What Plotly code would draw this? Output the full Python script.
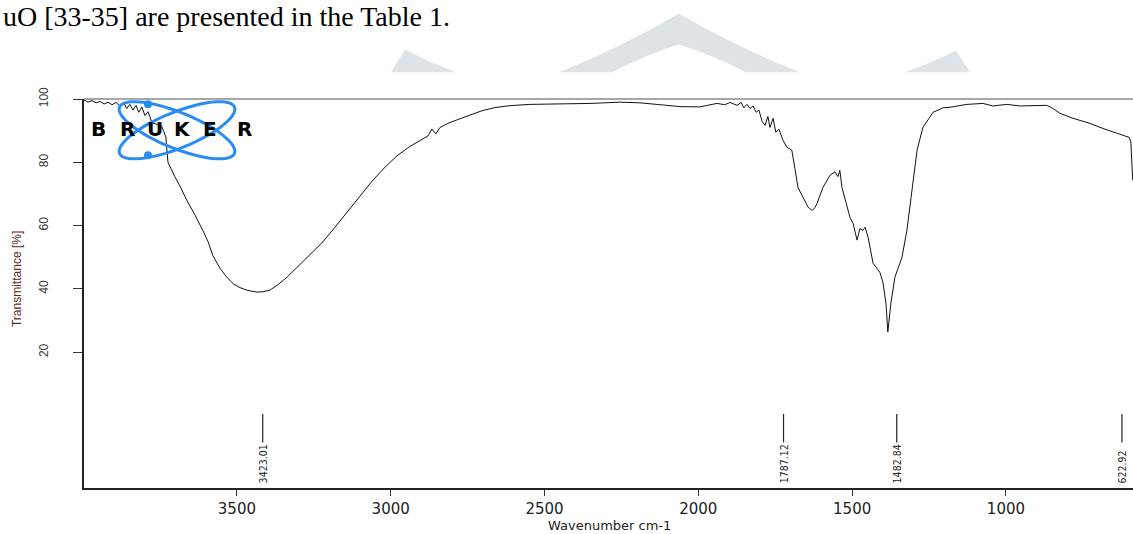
import numpy as np
import plotly.graph_objects as go

# ---------------- data ----------------
wavenumber = [3997, 3984, 3971, 3958, 3945, 3932, 3919, 3906, 3893, 3880, 3867, 3858, 3848, 3838,
              3828, 3819, 3809, 3799, 3789, 3776, 3760, 3744, 3731, 3724, 3702, 3685, 3663, 3637,
              3611, 3594, 3578, 3555, 3533, 3510, 3490, 3464, 3435, 3415, 3393, 3367, 3337, 3305,
              3263, 3224, 3181, 3139, 3100, 3061, 3018, 2980, 2938, 2905, 2879, 2866, 2853, 2840,
              2814, 2782, 2743, 2703, 2661, 2612, 2547, 2450, 2352, 2255, 2190, 2125, 2060, 1995,
              1940, 1914, 1897, 1874, 1861, 1852, 1842, 1832, 1822, 1812, 1803, 1793, 1783, 1774,
              1767, 1757, 1748, 1738, 1725, 1712, 1696, 1686, 1676, 1660, 1650, 1643, 1630, 1621,
              1614, 1595, 1572, 1556, 1546, 1540, 1533, 1517, 1507, 1497, 1484, 1475, 1465, 1458,
              1448, 1432, 1410, 1400, 1390, 1384, 1374, 1361, 1338, 1322, 1306, 1289, 1270, 1237,
              1205, 1182, 1127, 1075, 1042, 997, 955, 912, 867, 847, 825, 782, 727, 685, 639, 600,
              594, 588]
transmittance = [99.7, 99.0, 99.5, 98.8, 99.2, 98.4, 99.0, 98.2, 98.9, 97.8, 98.6, 97.0, 98.3, 96.5,
                 98.0, 95.8, 97.5, 94.8, 96.0, 92.5, 92.0, 91.3, 88.0, 80.0, 75.5, 72.5, 68.0, 63.5,
                 58.5, 55.0, 50.5, 46.5, 43.7, 41.5, 40.4, 39.5, 39.0, 39.1, 39.6, 41.3, 43.7, 46.8,
                 51.0, 54.5, 59.5, 64.5, 69.5, 74.0, 78.5, 82.0, 85.0, 86.8, 88.3, 90.5, 89.0, 91.0,
                 92.3, 93.5, 94.8, 96.3, 97.3, 97.9, 98.3, 98.4, 98.6, 99.0, 98.8, 98.2, 97.6, 97.5,
                 98.6, 98.2, 98.9, 98.0, 98.9, 97.2, 98.3, 97.0, 97.8, 95.8, 96.5, 93.0, 91.7, 94.5,
                 91.0, 93.9, 89.5, 90.5, 87.0, 84.8, 83.8, 78.0, 72.0, 69.0, 67.0, 65.8, 64.8, 65.7,
                 67.0, 72.0, 75.9, 77.0, 75.5, 77.5, 72.0, 66.4, 62.6, 60.7, 55.4, 59.0, 58.5, 59.5,
                 56.3, 48.1, 45.3, 42.1, 35.5, 26.4, 35.5, 43.7, 50.0, 58.5, 71.0, 83.8, 91.0, 95.8,
                 97.2, 97.4, 98.3, 98.6, 97.8, 98.3, 97.8, 98.0, 98.0, 97.0, 95.5, 93.9, 92.3, 90.7,
                 89.1, 87.9, 86.5, 74.3]

peak_positions = [3416, 1723, 1355, 623]
peak_labels = ["3423.01", "1787.12", "1482.84", "622.92"]

x_ticks = [3500, 3000, 2500, 2000, 1500, 1000]
y_ticks = [20, 40, 60, 80, 100]

# ---------------- layout geometry ----------------
W, H = 1133, 534
L, R, T, B = 84, 0, 98.7, 45.7
PW, PH = W - L - R, H - T - B


def px(x):
    return (x - L) / PW


def py(y):
    return (H - B - y) / PH


fig = go.Figure()

fig.add_trace(go.Scatter(x=wavenumber, y=transmittance, mode="lines",
                         line=dict(color="#111111", width=1), hoverinfo="skip",
                         showlegend=False))

# peak marker ticks
mx, my = [], []
for p in peak_positions:
    mx += [p, p, None]
    my += [0.5, -8.5, None]
fig.add_trace(go.Scatter(x=mx, y=my, mode="lines", line=dict(color="#222222", width=1.2),
                         hoverinfo="skip", showlegend=False))

annotations = []
for p, lab in zip(peak_positions, peak_labels):
    annotations.append(dict(x=p, y=-22.0, xref="x", yref="y", text=lab, showarrow=False,
                            textangle=-90, xanchor="center", yanchor="bottom",
                            font=dict(family="Liberation Sans Narrow, DejaVu Sans Condensed, sans-serif",
                                      size=10.5, color="#222222")))

# titles
annotations.append(dict(x=px(17), y=py(279), xref="paper", yref="paper",
                        xanchor="center", yanchor="middle",
                        text="Transmittance [%]", showarrow=False, textangle=-90,
                        font=dict(family="Liberation Sans, Arial", size=12, color="#5b2c1e")))
annotations.append(dict(x=px(609), y=py(526), xref="paper", yref="paper",
                        xanchor="center", yanchor="middle",
                        text="Wavenumber cm-1", showarrow=False,
                        font=dict(family="DejaVu Sans", size=13, color="#222222")))
annotations.append(dict(x=px(1), y=py(16), xref="paper", yref="paper", xanchor="left",
                        yanchor="middle", text="uO [33-35] are presented in the Table 1.",
                        showarrow=False,
                        font=dict(family="Liberation Serif, Times New Roman", size=28,
                                  color="#000000")))

shapes = []
# watermark
wm = "#dde3e6"


def path(points, close=True):
    s = ""
    for cmd, pts in points:
        if cmd == "L":
            for a_, b_ in pts:
                s += f"L {px(a_):.5f},{py(b_):.5f} "
        else:
            s += cmd + " " + " ".join(f"{px(a_):.5f},{py(b_):.5f}" for a_, b_ in pts) + " "
    return s + ("Z" if close else "")


shapes.append(dict(type="path", xref="paper", yref="paper", fillcolor=wm, line=dict(width=0),
                   layer="below",
                   path=path([("M", [(559, 72)]), ("Q", [(625, 45), (679, 13)]),
                              ("Q", [(733, 45), (800, 72)]), ("L", [(746, 72)]),
                              ("Q", [(712, 54), (679, 44)]), ("Q", [(646, 54), (612, 72)])])))
shapes.append(dict(type="path", xref="paper", yref="paper", fillcolor=wm, line=dict(width=0),
                   layer="below",
                   path=path([("M", [(391, 72)]), ("L", [(405, 49)]),
                              ("Q", [(430, 62), (456, 72)])])))
shapes.append(dict(type="path", xref="paper", yref="paper", fillcolor=wm, line=dict(width=0),
                   layer="below",
                   path=path([("M", [(905, 72)]), ("Q", [(932, 62), (956, 50)]),
                              ("L", [(970, 72)])])))

# top frame line
shapes.append(dict(type="line", xref="paper", yref="paper", x0=0, x1=1, y0=1, y1=1,
                   line=dict(color="#8a8a8a", width=1.5)))

# BRUKER logo ellipses
blue = "#2a8cf0"
cx, cy, a, b = 177, 130, 62, 18
t = np.linspace(0, 2 * np.pi, 80)
for th in (np.radians(22), np.radians(-22)):
    ex = cx + a * np.cos(t) * np.cos(th) - b * np.sin(t) * np.sin(th)
    ey = cy + a * np.cos(t) * np.sin(th) + b * np.sin(t) * np.cos(th)
    pts = list(zip(ex, ey))
    shapes.append(dict(type="path", xref="paper", yref="paper",
                       path=path([("M", [pts[0]]), ("L", pts[1:])]),
                       line=dict(color=blue, width=3)))
for (dx, dy) in [(148, 104), (148, 155)]:
    shapes.append(dict(type="circle", xref="paper", yref="paper",
                       x0=px(dx - 4), x1=px(dx + 4), y0=py(dy + 4), y1=py(dy - 4),
                       fillcolor=blue, line=dict(width=0)))

for ch, cxp in zip("BRUKER", [98, 127, 155, 182, 210, 244]):
    annotations.append(dict(x=px(cxp), y=py(129), xref="paper", yref="paper", text=f"<b>{ch}</b>",
                            xanchor="center", yanchor="middle", showarrow=False,
                            font=dict(family="DejaVu Sans", size=20, color="#000000")))

fig.update_layout(
    width=W, height=H,
    margin=dict(l=L, r=R, t=T, b=B, pad=0),
    paper_bgcolor="white", plot_bgcolor="white",
    showlegend=False,
    shapes=shapes, annotations=annotations,
    xaxis=dict(range=[3997, 587], tickvals=x_ticks, ticks="outside", ticklen=6,
               tickcolor="#333333", showgrid=False, zeroline=False, showline=True,
               linecolor="#222222", linewidth=1.5,
               tickfont=dict(family="DejaVu Sans", size=15, color="#222222")),
    yaxis=dict(range=[-22.9, 100], tickvals=y_ticks, ticks="outside", ticklen=9,
               tickcolor="#333333", showgrid=False, zeroline=False, showline=True,
               linecolor="#222222", linewidth=2, tickangle=-90, ticklabelstandoff=20,
               tickfont=dict(family="Liberation Sans, Arial", size=12, color="#333333")),
)

fig.write_html("out.html")
